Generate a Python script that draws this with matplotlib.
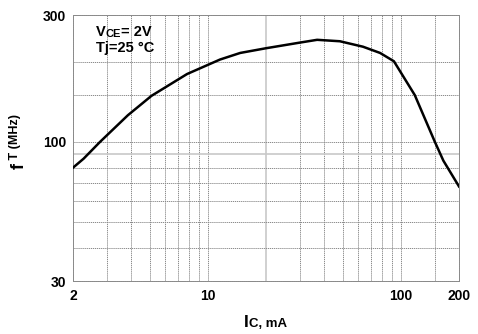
import matplotlib.pyplot as plt
from matplotlib.ticker import FixedLocator, NullFormatter

# values
ic_ma = [2, 2.27, 2.76, 3.85, 5.1, 7.8, 11.55, 14.7, 20, 29.7, 36.8, 48.3, 63.6, 78, 92, 118, 150, 166, 200]
ft_mhz = [80, 86.5, 100, 126, 149, 180, 204, 216, 225, 236, 242, 239, 228, 216, 201, 150, 100, 85, 68]

x_major = [2, 10, 100, 200]
x_grid = [3, 4, 5, 6, 7, 8, 9, 10, 30, 40, 50, 60, 70, 80, 90, 100, 150]
x_grid_light = [20]
y_major = [30, 100, 300]
y_grid = [40, 50, 60, 70, 80, 100, 150, 200]
y_grid_light = [90]

plt.rcParams['font.family'] = ['Liberation Sans', 'DejaVu Sans']

fig = plt.figure(figsize=(4.78, 3.34), dpi=100)
ax = fig.add_axes([73/478, 1-281/334, (459-73)/478, (281-15)/334])
ax.set_xscale('log')
ax.set_yscale('log')
ax.set_xlim(2, 200)
ax.set_ylim(30, 300)

gcol = '#8a8a8a'
for v in x_grid:
    ax.axvline(v, color=gcol, lw=0.7, ls=(0, (1.2, 0.8)), zorder=1)
for v in x_grid_light:
    ax.axvline(v, color='#c8c8c8', lw=1.2, zorder=1)
for v in y_grid:
    ax.axhline(v, color=gcol, lw=0.7, ls=(0, (1.2, 0.8)), zorder=1)
for v in y_grid_light:
    ax.axhline(v, color='#c8c8c8', lw=1.2, zorder=1)

for s in ax.spines.values():
    s.set_color(gcol)
    s.set_linewidth(0.7)
    s.set_linestyle((0, (1.2, 0.8)))

ax.plot(ic_ma, ft_mhz, color='black', lw=1.8, zorder=3, solid_joinstyle='round')

ax.xaxis.set_major_locator(FixedLocator(x_major))
ax.xaxis.set_minor_locator(FixedLocator([]))
ax.xaxis.set_minor_formatter(NullFormatter())
ax.set_xticklabels([str(v) for v in x_major])
ax.yaxis.set_major_locator(FixedLocator(y_major))
ax.yaxis.set_minor_locator(FixedLocator([]))
ax.yaxis.set_minor_formatter(NullFormatter())
ax.set_yticklabels([str(v) for v in y_major])
ax.tick_params(length=0, labelsize=10)
ax.tick_params(axis='x', pad=6)
ax.tick_params(axis='y', pad=5)
for lab in ax.get_xticklabels() + ax.get_yticklabels():
    lab.set_fontweight('bold')

# annotation block
t1 = fig.text(96/478, 1-36/334, 'V', fontsize=10.5, fontweight='bold', va='baseline')
t2 = ax.annotate('CE', xy=(1, 0), xycoords=t1, fontsize=8, fontweight='bold', va='bottom')
ax.annotate('= 2V', xy=(1, 0), xycoords=t2, fontsize=10.5, fontweight='bold', va='bottom')
fig.text(96/478, 1-52/334, 'Tj=25 \u00b0C', fontsize=10.5, fontweight='bold', va='baseline')

# y label
ya = fig.text(19/478, 1-169/334, 'f', fontsize=13, fontweight='bold', rotation=90, va='bottom', ha='center')
ax.annotate(' T (MHz)', xy=(0, 1), xycoords=ya, fontsize=9, fontweight='bold', rotation=90,
            va='bottom', ha='center', xytext=(3.5, 0), textcoords='offset points')

# x label
xa = fig.text(244/478, 1-327/334, 'I', fontsize=12.5, fontweight='bold', va='baseline')
ax.annotate('C, mA', xy=(1, 0), xycoords=xa, fontsize=9.5, fontweight='bold', va='bottom')

fig.savefig('out.png', dpi=100)
